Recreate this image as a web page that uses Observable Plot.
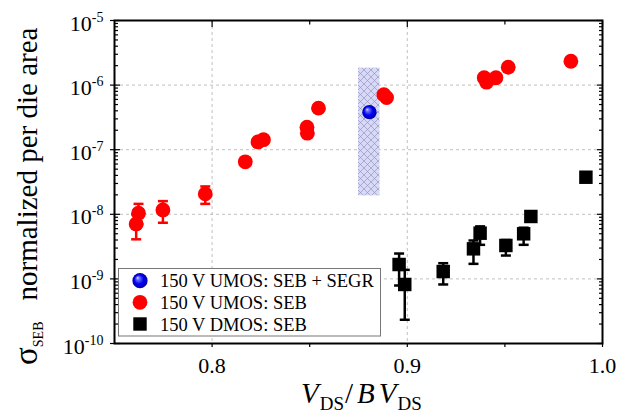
<!DOCTYPE html>
<html><head><meta charset="utf-8">
<script src="https://cdn.jsdelivr.net/npm/d3@7"></script>
<script src="https://cdn.jsdelivr.net/npm/@observablehq/plot@0.6"></script>
<style>
html,body{margin:0;padding:0;background:#fff;}
#chart{position:relative;width:635px;height:417px;}
</style></head><body>
<svg width="0" height="0" style="position:absolute">
<defs>
<radialGradient id="sphere" cx="0.5" cy="0.5" r="0.5" fx="0.33" fy="0.3">
<stop offset="0" stop-color="#dcdcff"/>
<stop offset="0.22" stop-color="#6a6aff"/>
<stop offset="0.6" stop-color="#0000f2"/>
<stop offset="1" stop-color="#0000a8"/>
</radialGradient>
<pattern id="hatch" width="7" height="7" patternUnits="userSpaceOnUse">
<rect width="7" height="7" fill="#d8d8f8"/>
<path d="M0,0L7,7M7,0L0,7" stroke="#8c8cac" stroke-width="0.6"/>
</pattern>
</defs></svg>
<div id="chart"></div>
<script>
// ---- data ----
const xDomain = [0.75, 1.0];
const yDomain = [1e-10, 1e-5];
const xMajor = [0.8, 0.9, 1.0];
const xMinor = [0.85, 0.95];
const xGrid = [0.8, 0.9];
const yMajor = [1e-10, 1e-9, 1e-8, 1e-7, 1e-6, 1e-5];
const yGrid = [1e-9, 1e-8, 1e-7, 1e-6];
const yMinorMult = [2, 3, 4, 5, 6, 7, 8, 9];
const yMinorExp = [-10, -9, -8, -7, -6];

// 150 V UMOS: SEB (red)
const redX = [0.7611, 0.7623, 0.7748, 0.7965, 0.8170, 0.8235, 0.8263, 0.8486, 0.8488, 0.8545, 0.8880, 0.8894, 0.9394, 0.9406, 0.9454, 0.9517, 0.9838];
const redY = [7.1e-9, 1.04e-8, 1.17e-8, 2.07e-8, 6.5e-8, 1.32e-7, 1.43e-7, 2.23e-7, 1.8e-7, 4.4e-7, 7.1e-7, 6.4e-7, 1.30e-6, 1.11e-6, 1.30e-6, 1.89e-6, 2.34e-6];
const redErrX = [0.7611, 0.7623, 0.7748, 0.7965];
const redErrLo = [4.1e-9, 7.0e-9, 7.4e-9, 1.45e-8];
const redErrHi = [1.0e-8, 1.45e-8, 1.6e-8, 2.7e-8];

// 150 V DMOS: SEB (black)
const blackX = [0.8958, 0.8987, 0.9184, 0.9339, 0.9373, 0.9505, 0.9596, 0.9633, 0.9915];
const blackY = [1.67e-9, 8.2e-10, 1.30e-9, 2.92e-9, 5.1e-9, 3.29e-9, 4.99e-9, 9.25e-9, 3.75e-8];
const blackErrX = [0.8958, 0.8987, 0.9184, 0.9339, 0.9373, 0.9505, 0.9596];
const blackErrLo = [7.9e-10, 2.33e-10, 8.2e-10, 1.71e-9, 3.37e-9, 2.3e-9, 3.37e-9];
const blackErrHi = [2.47e-9, 1.38e-9, 1.75e-9, 3.93e-9, 6.5e-9, 4.0e-9, 6.2e-9];

// 150 V UMOS: SEB + SEGR (blue)
const blueX = [0.8806];
const blueY = [3.81e-7];

// SEGR band
const bandX1 = [0.875];
const bandX2 = [0.886];
const bandY1 = [1.93e-8];
const bandY2 = [1.83e-6];

const legendLabels = ["150 V UMOS: SEB + SEGR", "150 V UMOS: SEB", "150 V DMOS: SEB"];

// ---- tables ----
const yMinor = [];
yMinorExp.forEach(e => yMinorMult.forEach(m => yMinor.push(m * Math.pow(10, e))));
const red = redX.map((x, i) => ({x, y: redY[i]}));
const black = blackX.map((x, i) => ({x, y: blackY[i]}));
const blue = blueX.map((x, i) => ({x, y: blueY[i]}));
const redErr = redErrX.map((x, i) => ({x, lo: redErrLo[i], hi: redErrHi[i]}));
const blackErr = blackErrX.map((x, i) => ({x, lo: blackErrLo[i], hi: blackErrHi[i]}));
const caps = arr => arr.flatMap(d => [{x: d.x, y: d.lo}, {x: d.x, y: d.hi}]);
const band = bandX1.map((x1, i) => ({x1, x2: bandX2[i], y1: bandY1[i], y2: bandY2[i]}));
const capSymbol = {draw(ctx, size) { const w = Math.sqrt(size / Math.PI); ctx.moveTo(-w, 0); ctx.lineTo(w, 0); }};
const none = () => "";
const tickStyle = {strokeWidth: 1.2, label: null};

const chart = Plot.plot({
  width: 635, height: 417,
  marginLeft: 114, marginRight: 33, marginTop: 20, marginBottom: 74,
  style: {fontFamily: "'Liberation Serif', serif", fontSize: "22px", color: "#000", background: "#fff", overflow: "visible"},
  x: {domain: xDomain},
  y: {type: "log", domain: yDomain},
  marks: [
    Plot.gridX(xGrid, {stroke: "#b0b0b0", strokeOpacity: 1, strokeDasharray: "3,3", strokeWidth: 0.8}),
    Plot.gridY(yGrid, {stroke: "#b0b0b0", strokeOpacity: 1, strokeDasharray: "3,3", strokeWidth: 0.8}),
    Plot.rect(band, {x1: "x1", x2: "x2", y1: "y1", y2: "y2", fill: "url(#hatch)"}),
    Plot.ruleX(redErr, {x: "x", y1: "lo", y2: "hi", stroke: "red", strokeWidth: 2.5}),
    Plot.dot(caps(redErr), {x: "x", y: "y", symbol: capSymbol, r: 5, stroke: "red", strokeWidth: 2.5, fill: "none"}),
    Plot.ruleX(blackErr, {x: "x", y1: "lo", y2: "hi", stroke: "black", strokeWidth: 2.5}),
    Plot.dot(caps(blackErr), {x: "x", y: "y", symbol: capSymbol, r: 5, stroke: "black", strokeWidth: 2.5, fill: "none"}),
    Plot.dot(red, {x: "x", y: "y", r: 7.4, fill: "#ff0000"}),
    Plot.dot(black, {x: "x", y: "y", symbol: "square", r: 7.6, fill: "#000"}),
    Plot.dot(blue, {x: "x", y: "y", r: 7.2, fill: "url(#sphere)"}),
    Plot.frame({stroke: "#000", strokeWidth: 2}),
    Plot.axisY({anchor: "left", ticks: yMajor, tickSize: 4, tickPadding: 7, tickFormat: d => String(Math.round(Math.log10(d))), ...tickStyle}),
    Plot.axisY({anchor: "left", ticks: yMajor, tickSize: -6, tickFormat: none, ...tickStyle}),
    Plot.axisY({anchor: "left", ticks: yMinor, tickSize: -4, tickFormat: none, ...tickStyle}),
    Plot.axisY({anchor: "right", ticks: yMajor, tickSize: -6, tickFormat: none, ...tickStyle}),
    Plot.axisY({anchor: "right", ticks: yMinor, tickSize: -4, tickFormat: none, ...tickStyle}),
    Plot.axisX({anchor: "bottom", ticks: xMajor, tickSize: 4, tickPadding: 10, tickFormat: d3.format(".1f"), ...tickStyle}),
    Plot.axisX({anchor: "bottom", ticks: xMinor, tickSize: 4, tickFormat: none, ...tickStyle}),
    Plot.axisX({anchor: "top", ticks: xMajor, tickSize: -6, tickFormat: none, ...tickStyle}),
    Plot.axisX({anchor: "top", ticks: xMinor, tickSize: -3.5, tickFormat: none, ...tickStyle})
  ]
});
document.getElementById("chart").appendChild(chart);

const svg = d3.select(chart);
// superscript y tick labels
svg.selectAll('g[aria-label="y-axis tick label"] text').each(function() {
  const t = this.textContent;
  if (!t) return;
  const s = d3.select(this);
  s.text(null).attr("y", 10);
  s.append("tspan").text("10");
  s.append("tspan").attr("dy", -9).attr("font-size", 14).text(t);
});

// y-axis label
const yl = svg.append("text")
  .attr("transform", "translate(37,365) rotate(-90)").attr("text-anchor", "start")
  .attr("font-family", "'Liberation Serif', serif").attr("font-size", 29).attr("fill", "#000");
yl.append("tspan").attr("font-size", 33).text("σ");
yl.append("tspan").attr("font-size", 14).attr("dy", 6).text("SEB");
yl.append("tspan").attr("dy", -6).attr("dx", 21).text("normalized per die area");

// x-axis label
const xl = svg.append("text").attr("x", 301).attr("y", 403).attr("text-anchor", "start")
  .attr("font-family", "'Liberation Serif', serif").attr("font-size", 29).attr("fill", "#000");
xl.append("tspan").attr("font-style", "italic").text("V");
xl.append("tspan").attr("font-size", 19).attr("dy", 7).attr("dx", 1).text("DS");
xl.append("tspan").attr("dy", -7).attr("dx", 1).text("/");
xl.append("tspan").attr("font-style", "italic").attr("dx", 4).text("B");
xl.append("tspan").attr("font-style", "italic").attr("dx", 4).text("V");
xl.append("tspan").attr("font-size", 19).attr("dy", 7).attr("dx", 1).text("DS");

// legend
const lg = svg.append("g").attr("font-family", "'Liberation Serif', serif").attr("font-size", 18.5).attr("text-anchor", "start");
lg.append("rect").attr("x", 118.5).attr("y", 268.5).attr("width", 262).attr("height", 67.5)
  .attr("fill", "#fff").attr("stroke", "#777").attr("stroke-width", 1);
const rowY = [280.7, 302.3, 324];
lg.append("circle").attr("cx", 140).attr("cy", rowY[0]).attr("r", 7.6).attr("fill", "url(#sphere)");
lg.append("circle").attr("cx", 140).attr("cy", rowY[1]).attr("r", 7.4).attr("fill", "#ff0000");
lg.append("rect").attr("x", 133.3).attr("y", rowY[2] - 6.7).attr("width", 13.4).attr("height", 13.4).attr("fill", "#000");
legendLabels.forEach((t, i) => {
  lg.append("text").attr("x", 160).attr("y", rowY[i] + 6.6).attr("fill", "#000").text(t);
});
</script>
</body></html>
